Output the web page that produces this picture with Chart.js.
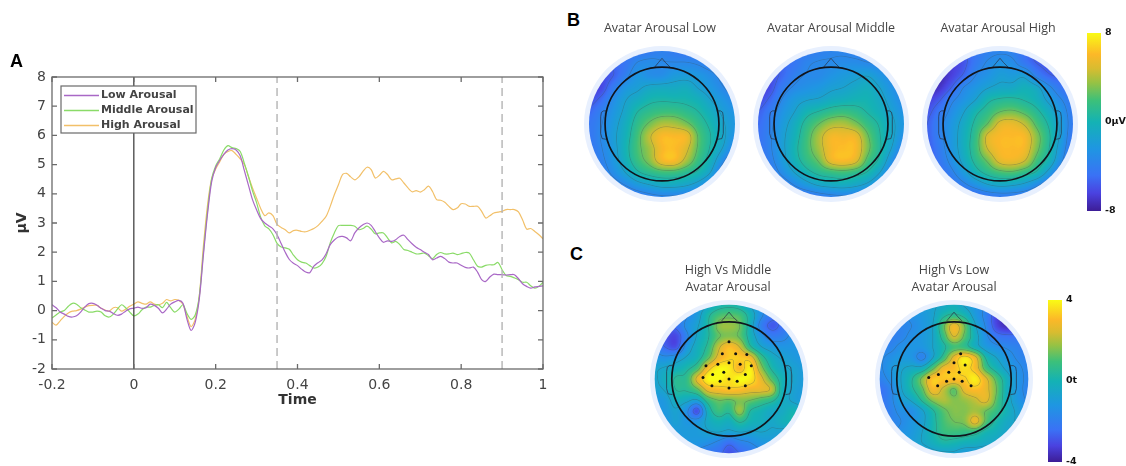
<!DOCTYPE html>
<html>
<head>
<meta charset="utf-8">
<title>Avatar arousal ERP</title>
<script src="https://cdn.jsdelivr.net/npm/chart.js@4"></script>
<style>
    html, body { margin: 0; padding: 0; background: #fff; }
    body { position: relative; width: 1126px; height: 466px; overflow: hidden; }
    canvas { position: absolute; filter: blur(0.5px); }
    .letter { position: absolute; font: bold 18px "Liberation Sans", sans-serif; color: #000; line-height: 18px; }
    .map-title {
        position: absolute; width: 170px; text-align: center; color: #444;
        font: 12.5px/17px "Open Sans", sans-serif; filter: blur(0.3px);
    }
</style>
</head>
<body>
<script>
// sampled every 10 ms
const times = [
    -0.2,-0.19,-0.18,-0.17,-0.16,-0.15,-0.14,-0.13,-0.12,-0.11,-0.1,-0.09,-0.08,-0.07,-0.06,-0.05,-0.04,-0.03,-0.02,-0.01,
    0,0.01,0.02,0.03,0.04,0.05,0.06,0.07,0.08,0.09,0.1,0.11,0.12,0.13,0.14,0.15,0.16,0.17,0.18,0.19,
    0.2,0.21,0.22,0.23,0.24,0.25,0.26,0.27,0.28,0.29,0.3,0.31,0.32,0.33,0.34,0.35,0.36,0.37,0.38,0.39,
    0.4,0.41,0.42,0.43,0.44,0.45,0.46,0.47,0.48,0.49,0.5,0.51,0.52,0.53,0.54,0.55,0.56,0.57,0.58,0.59,
    0.6,0.61,0.62,0.63,0.64,0.65,0.66,0.67,0.68,0.69,0.7,0.71,0.72,0.73,0.74,0.75,0.76,0.77,0.78,0.79,
    0.8,0.81,0.82,0.83,0.84,0.85,0.86,0.87,0.88,0.89,0.9,0.91,0.92,0.93,0.94,0.95,0.96,0.97,0.98,0.99,1
];
const lowArousal = [
    0.2,0.1,-0.05,-0.12,-0.2,-0.22,-0.18,-0.05,0.12,0.24,0.25,0.18,0.08,0,-0.02,-0.1,-0.16,-0.12,-0.02,0.06,
    0.08,0.12,0.08,0.1,0.22,0.18,0.08,-0.08,0.05,0.22,0.3,0.35,0.25,-0.3,-0.68,-0.4,0.4,1.9,3.3,4.4,
    4.9,5.15,5.35,5.5,5.55,5.5,5.3,4.8,4.3,3.8,3.45,3.15,3,2.9,2.8,2.6,2.3,2,1.75,1.62,
    1.54,1.42,1.32,1.3,1.52,1.64,1.74,1.95,2.26,2.42,2.52,2.54,2.49,2.39,2.66,2.83,2.94,3,2.92,2.71,
    2.49,2.34,2.39,2.37,2.43,2.54,2.58,2.43,2.29,2.17,2.09,2,1.92,1.74,1.8,1.86,1.78,1.66,1.63,1.63,
    1.55,1.48,1.46,1.49,1.32,1.06,1,1.15,1.25,1.23,1.23,1.22,1.23,1.23,1.09,0.92,0.83,0.77,0.81,0.83,0.85
];
const middleArousal = [
    -0.25,-0.15,-0.05,0,0.15,0.25,0.22,0.1,0.02,-0.05,-0.05,-0.02,-0.05,-0.18,-0.22,-0.12,0.05,0.2,0.1,-0.05,
    -0.18,-0.12,0.03,0.12,0.12,0.18,0.2,0.1,0.28,0.1,-0.05,0.05,0.2,-0.1,-0.3,-0.15,0.5,2,3.4,4.5,
    4.95,5.2,5.5,5.65,5.58,5.55,5.45,5.05,4.6,4.1,3.7,3.2,2.9,2.8,2.6,2.3,2.18,2.15,2.1,1.9,
    1.74,1.66,1.63,1.54,1.46,1.49,1.61,1.86,2.32,2.66,2.91,2.92,2.92,2.92,2.89,2.77,2.81,2.89,2.79,2.63,
    2.66,2.66,2.49,2.32,2.37,2.26,2.09,2.06,2,1.94,1.95,1.97,1.88,1.78,1.92,1.99,1.94,1.94,1.97,1.92,
    1.95,1.99,1.97,1.74,1.52,1.49,1.55,1.57,1.57,1.65,1.4,1.2,1.17,1.12,1.06,0.97,0.97,0.85,0.77,0.83,0.97
];
const highArousal = [
    -0.4,-0.5,-0.35,-0.2,-0.08,-0.02,0,0.05,0.12,0.17,0.18,0.18,0.08,0.02,-0.02,0.1,0.1,-0.02,0.05,0.15,
    0.22,0.3,0.25,0.22,0.3,0.22,0.2,0.25,0.38,0.33,0.38,0.35,0.22,-0.2,-0.55,-0.3,0.5,2.2,3.6,4.5,
    4.85,5.1,5.35,5.45,5.48,5.35,5.2,5,4.6,4.2,3.85,3.5,3.25,3.35,3.25,2.95,2.85,2.77,2.66,2.74,
    2.75,2.71,2.7,2.75,2.81,2.91,3.06,3.23,3.57,3.97,4.31,4.66,4.7,4.58,4.48,4.58,4.77,4.91,4.83,4.54,
    4.63,4.77,4.66,4.48,4.51,4.53,4.37,4.2,4.07,4.11,4.06,4.14,4.26,4.08,3.8,3.78,3.71,3.57,3.46,3.51,
    3.66,3.65,3.57,3.57,3.57,3.4,3.17,3.25,3.34,3.37,3.4,3.46,3.46,3.46,3.38,3.11,2.79,2.81,2.71,2.6,2.46
];
const markerTimes = [0.35, 0.9];
const xTickValues = [-0.2, 0, 0.2, 0.4, 0.6, 0.8, 1];

// scalp maps, rows from the front of the head to the back, in µV
const mapLow = [
    [-4.5,-4.5,-4.5,-4.5,-4.5,-4.2,-3.8,-4.2,-4.5,-4.5,-4.5,-4.5,-4.5],
    [-5.2,-5.2,-5.1,-4.5,-3.3,-3,-3.3,-3.3,-3.3,-3.6,-4.2,-4.5,-4.5],
    [-6,-6,-5.4,-3.9,-2.4,-2.9,-2.9,-2.1,-2,-2.3,-3,-3.9,-4.5],
    [-6.5,-6.2,-4.2,-2.4,-1.7,-1,-0.8,-0.8,-0.6,-1.5,-2.3,-3.3,-4.2],
    [-6,-5,-3,-1.5,-0.6,0.2,0.4,0.3,0.2,-0.3,-1.4,-2.4,-3.3],
    [-5.1,-3.9,-2.4,-1,0.6,1.4,1.8,1.8,1.3,0.6,-0.5,-1.7,-2.6],
    [-4.5,-3.5,-2,-0.5,1.4,2.9,4,3.9,3,1.5,0.2,-1.2,-2.3],
    [-4.5,-3.3,-1.8,-0.2,2,4.4,6,6,5.6,2.4,0.6,-1,-2.7],
    [-4.5,-3.5,-2,0,2.1,3.8,5.9,6.2,5,2.3,0.4,-1.5,-3.6],
    [-4.5,-3.8,-2.3,-0.3,1.7,3.3,5.7,6,3.9,1.6,-0.3,-3,-5.2],
    [-4.5,-4.2,-3,-1.4,0.3,1.2,1.8,1.8,1.1,0.2,-1.5,-4.5,-6],
    [-4.8,-4.5,-4.2,-3.3,-2.1,-1.4,-0.8,-0.8,-1.2,-2.1,-3.6,-5.1,-6],
    [-5.2,-5.2,-5.2,-5.2,-4.5,-3.9,-3.6,-3.6,-3.9,-4.5,-5.1,-5.4,-5.7]
];
const mapMiddle = [
    [-4.8,-4.8,-4.8,-4.5,-4.2,-3.9,-3.6,-3.6,-3.9,-4.2,-4.2,-4.5,-4.5],
    [-5.4,-5.4,-5.1,-4.5,-3.6,-3.3,-3.2,-3,-3,-3.3,-3.6,-3.9,-4.2],
    [-6.4,-6,-5.1,-3.9,-3.3,-3.2,-2.6,-2.1,-1.8,-1.5,-2.4,-3.3,-3.9],
    [-6.8,-6,-4.2,-3.2,-2.7,-2.3,-1.7,-1.4,-0.9,-0.5,-1.4,-2.7,-3.6],
    [-6.2,-5.1,-3.3,-2.1,-1.5,-1.2,-0.6,-0.3,0,0,-0.8,-2.1,-3.3],
    [-5.4,-4.2,-2.6,-1.4,0,0.7,1.4,1.7,1.3,0.5,-0.3,-1.5,-2.7],
    [-5,-3.8,-2.1,-0.6,1.2,2.6,3.8,4,3.1,1.6,0.4,-1,-2.4],
    [-4.8,-3.6,-1.8,-0.2,1.8,3.9,5.7,5.7,5.5,2.8,0.7,-1,-2.9],
    [-4.8,-3.6,-1.8,0.1,1.9,3.8,5.8,6.2,6,3.1,0.8,-1.5,-3.8],
    [-4.8,-3.9,-2.1,-0.2,1.4,2.8,5.4,6,5.2,2.1,0.2,-2.7,-5.1],
    [-5.1,-4.5,-3,-1.4,0,1,1.6,1.9,1.4,0.4,-1.4,-3.9,-5.4],
    [-5.4,-5.1,-4.5,-3.3,-2.1,-1.2,-0.8,-0.6,-1,-1.8,-3.3,-4.8,-5.7],
    [-5.7,-5.7,-5.4,-5.2,-4.8,-4.2,-3.8,-3.6,-3.8,-4.5,-5.1,-5.4,-5.7]
];
const mapHigh = [
    [-6,-6,-6,-5.6,-4.5,-3.9,-3.6,-3.8,-4.8,-5.6,-6,-6,-6],
    [-6.5,-6.5,-6.5,-5.8,-4.3,-3.2,-2.6,-3,-4.3,-5.4,-5.8,-6,-6],
    [-7.4,-7.4,-6.5,-5.2,-3.4,-2.6,-1.8,-2,-1.8,-3.9,-5.2,-5.6,-5.8],
    [-7.6,-7,-5.4,-3.4,-2.4,-1.5,-1,-0.9,-0.3,-1,-3,-4.5,-5.4],
    [-6.5,-5.6,-3.8,-2.6,-1.4,0.2,0.8,0.9,0.5,-0.2,-1.8,-3.3,-4.5],
    [-5.8,-4.5,-3,-1.5,0.2,1.4,2.6,2.9,2.2,1,-0.5,-2.4,-4.2],
    [-5.4,-3.9,-2.4,-0.8,1,2.7,5.1,5.4,4.4,2.2,0.4,-1.8,-4.2],
    [-5.4,-3.9,-2.3,-0.5,1.6,5,6,6.1,5.9,3.3,0.9,-1.8,-4.5],
    [-5.6,-4.2,-2.4,-0.5,1.7,4.7,6,6.1,5.8,3.1,0.7,-2.3,-4.8],
    [-5.8,-4.5,-2.9,-0.9,1.1,2.9,5.2,5.6,4.7,2,0,-3,-5.4],
    [-6,-5.1,-3.8,-2.1,-0.2,1.1,2,2.2,1.4,0.3,-2,-4.5,-5.8],
    [-6.2,-5.6,-4.8,-3.8,-2.6,-1.5,-1,-1.2,-1.8,-3,-4.5,-5.6,-6],
    [-6.4,-6.2,-5.8,-5.6,-5.1,-4.5,-4.2,-4.2,-4.5,-5.1,-5.6,-6,-6.2]
];
// t values
const mapHighVsMiddle = [
    [-1.8,-1.8,-1.8,-1.8,-1.2,-0.6,0,0.2,0,-0.7,-1.4,-1.8,-1.8,-1.8,-1.8],
    [-2.4,-2.4,-2.2,-1.7,-1,0.2,1,1.2,1,0,-1.4,-2.2,-2.4,-2.4,-2.4],
    [-2.6,-2.6,-2.4,-1.4,-0.7,0.3,1.6,1.8,1.4,-0.1,-1.9,-2.8,-2.4,-1.9,-1.9],
    [-2.6,-2.9,-3.1,-1.8,-0.5,0.3,1.3,1.6,1.3,0,-1.2,-2,-1.9,-1.4,-1.4],
    [-1.9,-2.6,-2.9,-1.2,-0.2,0.6,2.2,3.1,2.4,0.6,-0.5,-1,-1.2,-1.2,-1.2],
    [-1.2,-1.4,-1.1,-0.5,0,1.2,2.7,3.3,3.3,2.9,0.9,-0.2,-0.7,-1,-1.2],
    [-0.7,-0.5,-0.2,0.2,1,3,3.9,3.8,3,3.8,1.8,0.3,-0.4,-0.7,-1],
    [-0.7,-0.2,0.5,0.7,2.6,3.9,4,3.6,4,3.8,2.7,1.2,0,-0.6,-1],
    [-0.8,-0.5,0.4,0.5,1.2,2.7,3,3.2,3.1,2.8,2.7,2.2,0,-0.7,-1],
    [-1.2,-1,-0.2,-0.4,-0.7,0.8,1.4,1.3,1.6,1.4,1,0.6,-0.2,-0.7,-1],
    [-1.2,-1.1,-0.7,-1.4,-2.9,-0.2,0.9,0.6,1.8,0.4,0,-0.4,-0.4,0,-0.4],
    [-1.2,-1.2,-0.8,-1.2,-1.2,-0.4,0,-0.2,0.5,0,-0.2,-0.5,-0.2,0,-0.4],
    [-1.4,-1.2,-1.1,-1,-1,-0.7,-0.6,-0.8,-0.6,-0.7,-0.6,-0.7,-0.8,-1,-1.2],
    [-1.4,-1.4,-1.3,-1.2,-1.2,-1.4,-1.8,-2.4,-1.9,-1.6,-1.2,-1.1,-1.2,-1.2,-1.4],
    [-1.7,-1.7,-1.7,-1.7,-1.8,-2.2,-2.4,-2.9,-2.6,-2.2,-1.8,-1.7,-1.7,-1.7,-1.7]
];
const mapHighVsLow = [
    [-1.2,-1.2,-1.2,-1.2,-1,-0.7,-0.5,-0.2,-0.7,-1.2,-1.7,-2.4,-2.6,-2.6,-2.6],
    [-1.8,-1.8,-1.7,-1.4,-1.1,-0.7,0.2,0.6,0.1,-1,-1.9,-3.1,-3.4,-3.1,-3],
    [-1.9,-1.9,-1.8,-1.6,-1.2,-0.6,1.2,2.8,1.4,-0.5,-1.7,-3.1,-3.6,-3.4,-3],
    [-2.2,-2,-1.8,-1.4,-1.1,-0.6,0.8,2.4,1.2,-0.2,-1.4,-2.2,-2.4,-2.4,-2.4],
    [-1.9,-1.8,-1.4,-1.2,-1.2,-0.6,0.2,1,0.8,-0.1,-1,-1.4,-1.7,-1.9,-2.2],
    [-1.7,-1.4,-1.1,-1.2,-1.8,-0.6,0.8,2.7,3.7,2.7,0.3,-0.6,-1.2,-1.7,-1.9],
    [-1.7,-1.2,-0.7,-0.4,-0.2,1.2,2.8,3.1,3.6,3,1,0,-0.8,-1.4,-1.8],
    [-1.9,-1.4,-0.6,0.3,1.6,3.2,3.2,3.2,3.3,3.8,2.6,1.1,-0.2,-1.2,-1.8],
    [-2.4,-1.8,-0.7,0.2,1.2,2.9,2.2,1.3,2.7,3.1,2.7,1.4,-0.2,-1.2,-1.9],
    [-2.4,-1.8,-1,-0.5,0.5,1.6,2,1.6,1.8,2.2,2.6,1.2,-0.2,-1.1,-1.7],
    [-2.4,-1.9,-1.4,-1.4,-0.7,0.3,1.2,1.6,1.6,1.9,1.4,0.8,-0.1,-0.8,-1.4],
    [-2.2,-1.9,-1.6,-1.2,-0.8,0.1,1,1.4,1.6,2.7,1.2,0.2,-0.4,-0.7,-1.2],
    [-1.9,-1.8,-1.4,-1.1,-0.6,0.1,0.8,0.9,0.8,0.7,0.1,-0.2,-0.6,-0.8,-1.2],
    [-1.8,-1.6,-1.2,-1,-0.6,-0.2,0.2,0.1,-0.1,-0.2,-0.4,-0.6,-0.8,-1.1,-1.4],
    [-1.9,-1.8,-1.6,-1.3,-1.1,-0.8,-0.7,-0.7,-1,-1,-1.1,-1.2,-1.3,-1.4,-1.7]
];
const sensorsHighVsMiddle = [
    [0,0.5],[-0.09,0.34],[0.09,0.34],[0.24,0.33],[-0.31,0.18],[-0.15,0.2],[0,0.22],[0.15,0.2],[0.3,0.18],[-0.22,0.06],
    [-0.07,0.09],[0.22,0.06],[-0.35,0.02],[0,0],[0.11,-0.03],[-0.12,-0.03],[-0.23,-0.09],[0,-0.12],[0.22,-0.09]
];
const sensorsHighVsLow = [
    [0.09,0.34],[0,0.22],[0.15,0.19],[-0.21,0.06],[-0.07,0.09],[0.07,0.09],[-0.34,0.02],[-0.1,-0.03],[0,0],[0.11,-0.03],[-0.22,-0.09],[0.23,-0.09]
];
const noseOutline = [[-0.1,0.78],[-0.05,0.84],[0,0.9],[0.05,0.84],[0.11,0.78]];
const earOutline = [[0.76,0.18],[0.8,0.18],[0.83,0.16],[0.84,0.1],[0.84,-0.13],[0.82,-0.2],[0.76,-0.21]];

const colorStops = [
    [0, "#3d1d96"], [0.1, "#4a42e0"], [0.2, "#3a72f5"], [0.35, "#1f96e2"], [0.5, "#14b2b4"],
    [0.62, "#3cc07a"], [0.72, "#96c244"], [0.8, "#d8bc30"], [0.88, "#fcb828"], [1, "#f9fb15"]
];

function hexToRgb(hex) {
    return [1, 3, 5].map(i => parseInt(hex.slice(i, i + 2), 16));
}

const colorLut = (() => {
    const lut = [];
    for (let i = 0; i <= 255; i++) {
        const t = i / 255;
        let k = 0;
        while (k < colorStops.length - 2 && t > colorStops[k + 1][0]) k++;
        const [t0, c0] = colorStops[k];
        const [t1, c1] = colorStops[k + 1];
        const f = (t - t0) / (t1 - t0);
        const a = hexToRgb(c0), b = hexToRgb(c1);
        lut.push(a.map((v, j) => v + (b[j] - v) * f));
    }
    return lut;
})();

function cubic(p0, p1, p2, p3, t) {
    return p1 + 0.5 * t * (p2 - p0 + t * (2 * p0 - 5 * p1 + 4 * p2 - p3 + t * (3 * (p1 - p2) + p3 - p0)));
}

function sampleGrid(grid, x, y) {
    const n = grid.length - 1;
    const gx = (x + 1) / 2 * n, gy = (1 - y) / 2 * n;
    const ix = Math.floor(gx), iy = Math.floor(gy);
    const at = (r, c) => grid[Math.max(0, Math.min(n, r))][Math.max(0, Math.min(n, c))];
    const row = r => cubic(at(r, ix - 1), at(r, ix), at(r, ix + 1), at(r, ix + 2), gx - ix);
    return cubic(row(iy - 1), row(iy), row(iy + 1), row(iy + 2), gy - iy);
}

const topoPlugin = {
    id: "topo",
    beforeDatasetsDraw(chart, args, opts) {
        const { ctx, scales: { x: sx, y: sy }, width, height } = chart;
        const unit = sx.getPixelForValue(1) - sx.getPixelForValue(0);
        const cx = sx.getPixelForValue(0), cy = sy.getPixelForValue(0);

        ctx.save();
        ctx.fillStyle = "#e8f0fe";
        ctx.beginPath();
        ctx.arc(cx, cy, unit * opts.halo, 0, Math.PI * 2);
        ctx.fill();

        const values = new Float32Array(width * height);
        for (let j = 0; j < height; j++) {
            const vy = sy.getValueForPixel(j + 0.5);
            for (let i = 0; i < width; i++) {
                values[j * width + i] = sampleGrid(opts.grid, sx.getValueForPixel(i + 0.5), vy);
            }
        }

        const off = document.createElement("canvas");
        off.width = width;
        off.height = height;
        const offCtx = off.getContext("2d");
        const img = offCtx.createImageData(width, height);
        for (let j = 1; j < height - 1; j++) {
            for (let i = 1; i < width - 1; i++) {
                const k = j * width + i;
                const v = values[k];
                const t = Math.max(0, Math.min(1, (v - opts.min) / (opts.max - opts.min)));
                const c = colorLut[Math.round(t * 255)];
                const gx = (values[k + 1] - values[k - 1]) / 2;
                const gy = (values[k + width] - values[k - width]) / 2;
                const g = Math.max(Math.hypot(gx, gy), 0.002);
                const near = Math.round((v - opts.offset) / opts.step) * opts.step + opts.offset;
                const a = Math.max(0, 1 - Math.abs(v - near) / (g * 0.8)) * 0.28;
                const p = (j * width + i) * 4;
                img.data[p] = c[0] * (1 - a) + 60 * a;
                img.data[p + 1] = c[1] * (1 - a) + 80 * a;
                img.data[p + 2] = c[2] * (1 - a) + 80 * a;
                img.data[p + 3] = 255;
            }
        }
        offCtx.putImageData(img, 0, 0);

        ctx.beginPath();
        ctx.arc(cx, cy, unit, 0, Math.PI * 2);
        ctx.clip();
        ctx.drawImage(off, 0, 0);
        ctx.restore();

        // nose and ears go under the head circle
        ctx.save();
        ctx.strokeStyle = "rgba(40,50,70,0.8)";
        ctx.lineWidth = 0.9;
        const tracePath = (pts, flip) => {
            ctx.beginPath();
            pts.forEach(([px, py], i) => {
                const xp = sx.getPixelForValue(flip ? -px : px), yp = sy.getPixelForValue(py);
                if (i) ctx.lineTo(xp, yp); else ctx.moveTo(xp, yp);
            });
            ctx.stroke();
        };
        tracePath(noseOutline, false);
        tracePath(earOutline, false);
        tracePath(earOutline, true);
        ctx.strokeStyle = "#10141c";
        ctx.lineWidth = 1.7;
        ctx.beginPath();
        ctx.arc(cx, cy, unit * opts.head, 0, Math.PI * 2);
        ctx.stroke();
        ctx.restore();
    },
};

const axisBoxPlugin = {
    id: "axisBox",
    afterDatasetsDraw(chart) {
        const { ctx, chartArea: a, scales: { x, y } } = chart;
        ctx.save();
        ctx.strokeStyle = "#6a6a6a";
        ctx.lineWidth = 1.3;
        ctx.strokeRect(a.left, a.top, a.right - a.left, a.bottom - a.top);
        ctx.beginPath();
        x.ticks.forEach(t => {
            const px = x.getPixelForValue(t.value);
            ctx.moveTo(px, a.top); ctx.lineTo(px, a.top + 5);
            ctx.moveTo(px, a.bottom); ctx.lineTo(px, a.bottom - 5);
        });
        y.ticks.forEach(t => {
            const py = y.getPixelForValue(t.value);
            ctx.moveTo(a.left, py); ctx.lineTo(a.left + 5, py);
            ctx.moveTo(a.right, py); ctx.lineTo(a.right - 5, py);
        });
        ctx.stroke();

        // matlab style legend in a box
        const items = chart.data.datasets.filter(d => d.inLegend);
        const left = x.getPixelForValue(-0.2) + 9, top = a.top + 9;
        ctx.fillStyle = "#fff";
        ctx.fillRect(left, top, 135, 47);
        ctx.strokeStyle = "#6a6a6a";
        ctx.lineWidth = 1.2;
        ctx.strokeRect(left, top, 135, 47);
        ctx.font = "bold 11px 'DejaVu Sans'";
        ctx.textBaseline = "middle";
        items.forEach((d, i) => {
            const ly = top + 9.5 + i * 15;
            ctx.strokeStyle = d.borderColor;
            ctx.lineWidth = 1.5;
            ctx.beginPath();
            ctx.moveTo(left + 3, ly);
            ctx.lineTo(left + 38, ly);
            ctx.stroke();
            ctx.fillStyle = "#444";
            ctx.fillText(d.label, left + 40, ly);
        });
        ctx.restore();
    },
};

function addCanvas(left, top, width, height) {
    const c = document.createElement("canvas");
    c.style.left = left + "px";
    c.style.top = top + "px";
    c.style.width = width + "px";
    c.style.height = height + "px";
    c.width = width;
    c.height = height;
    document.body.appendChild(c);
    return c;
}

function addText(cls, left, top, lines) {
    const d = document.createElement("div");
    d.className = cls;
    d.style.left = left + "px";
    d.style.top = top + "px";
    d.innerHTML = lines.join("<br>");
    document.body.appendChild(d);
}

function drawErp() {
    const series = [
        { label: "Low Arousal", values: lowArousal, color: "#a968c6" },
        { label: "Middle Arousal", values: middleArousal, color: "#8adb68" },
        { label: "High Arousal", values: highArousal, color: "#f2c069" },
    ];
    const lineSets = series.map(s => ({
        label: s.label,
        inLegend: true,
        data: times.map((t, i) => ({ x: t, y: s.values[i] })),
        borderColor: s.color,
        borderWidth: 1.2,
        pointRadius: 0,
        tension: 0.3,
    }));
    const zeroLine = {
        data: [{ x: 0, y: -2 }, { x: 0, y: 8 }],
        borderColor: "#333",
        borderWidth: 1.2,
        pointRadius: 0,
    };
    const markers = markerTimes.map(t => ({
        data: [{ x: t, y: -2 }, { x: t, y: 8 }],
        borderColor: "#b4b4b4",
        borderWidth: 1.4,
        borderDash: [8, 5],
        pointRadius: 0,
    }));

    new Chart(addCanvas(0, 60, 560, 350), {
        type: "line",
        data: { datasets: [zeroLine, ...markers, ...lineSets] },
        options: {
            responsive: false,
            animation: false,
            layout: { padding: { top: 17, right: 17 } },
            plugins: { legend: { display: false }, tooltip: { enabled: false } },
            scales: {
                x: {
                    type: "linear",
                    min: -0.2,
                    max: 1,
                    afterFit(s) { s.height = 41; },
                    afterBuildTicks(s) { s.ticks = xTickValues.map(value => ({ value })); },
                    grid: { display: false },
                    border: { display: false },
                    ticks: {
                        color: "#444",
                        font: { family: "DejaVu Sans", size: 14 },
                        maxRotation: 0,
                        padding: 0,
                        callback: v => String(v),
                    },
                    title: {
                        display: true,
                        text: "Time",
                        color: "#333",
                        font: { family: "DejaVu Sans", size: 14, weight: "bold" },
                        padding: { top: 0, bottom: 1 },
                    },
                },
                y: {
                    min: -2,
                    max: 8,
                    afterFit(s) { s.width = 52; },
                    grid: { display: false },
                    border: { display: false },
                    ticks: {
                        stepSize: 1,
                        color: "#444",
                        font: { family: "DejaVu Sans", size: 14 },
                        padding: -2,
                    },
                    title: {
                        display: true,
                        text: "µV",
                        color: "#333",
                        font: { family: "DejaVu Sans", size: 14, weight: "bold" },
                        padding: { top: 14, bottom: 0 },
                    },
                },
            },
        },
        plugins: [axisBoxPlugin],
    });
}

function drawMap(centerX, centerY, radius, haloPx, grid, range, levels, head, sensors) {
    const size = Math.ceil((radius + haloPx) * 2 + 2);
    const extent = size / 2 / radius;
    new Chart(addCanvas(centerX - size / 2, centerY - size / 2, size, size), {
        type: "scatter",
        data: {
            datasets: [{
                data: sensors.map(([x, y]) => ({ x, y })),
                pointRadius: 1.5,
                pointBackgroundColor: "#111",
                pointBorderWidth: 0,
            }],
        },
        options: {
            responsive: false,
            animation: false,
            layout: { padding: 0 },
            plugins: {
                legend: { display: false },
                tooltip: { enabled: false },
                topo: {
                    grid, min: -range, max: range, step: levels.step, offset: levels.offset,
                    head, halo: 1 + haloPx / radius,
                },
            },
            scales: {
                x: { type: "linear", display: false, min: -extent, max: extent },
                y: { type: "linear", display: false, min: -extent, max: extent },
            },
        },
        plugins: [topoPlugin],
    });
}

function drawColorbar(left, top, barWidth, barHeight, range, tickLabels) {
    const pad = 10, labelWidth = 30;
    new Chart(addCanvas(left, top - pad, barWidth + labelWidth, barHeight + pad * 2), {
        type: "bar",
        data: {
            labels: [""],
            datasets: [{
                data: [[-range, range]],
                barPercentage: 1,
                categoryPercentage: 1,
                backgroundColor(c) {
                    const area = c.chart.chartArea;
                    if (!area) return "#14b2b4";
                    const g = c.chart.ctx.createLinearGradient(0, area.bottom, 0, area.top);
                    colorStops.forEach(([t, col]) => g.addColorStop(t, col));
                    return g;
                },
            }],
        },
        options: {
            responsive: false,
            animation: false,
            layout: { padding: { top: pad, bottom: pad } },
            plugins: { legend: { display: false }, tooltip: { enabled: false } },
            scales: {
                x: { display: false },
                y: {
                    position: "right",
                    min: -range,
                    max: range,
                    afterFit(s) { s.width = labelWidth; },
                    afterBuildTicks(s) { s.ticks = [-range, 0, range].map(value => ({ value })); },
                    grid: { display: false },
                    border: { display: false },
                    ticks: {
                        color: "#111",
                        padding: -4,
                        font: { family: "DejaVu Sans", size: 9.5, weight: "bold" },
                        callback: (v, i) => tickLabels[i],
                    },
                },
            },
        },
    });
}

const bRange = 8, cRange = 4;
const bLevels = { step: 2, offset: 0.6 }, cLevels = { step: 1, offset: 0.4 };
const bHead = 0.78, cHead = 0.77;

drawErp();
drawMap(661.7, 124, 73, 5, mapLow, bRange, bLevels, bHead, []);
drawMap(830.7, 124, 73, 5, mapMiddle, bRange, bLevels, bHead, []);
drawMap(1000, 124, 73, 5, mapHigh, bRange, bLevels, bHead, []);
drawMap(729, 379, 78, 5, mapHighVsMiddle, cRange, cLevels, cHead, sensorsHighVsMiddle);
drawMap(954, 379, 78, 5, mapHighVsLow, cRange, cLevels, cHead, sensorsHighVsLow);
drawColorbar(1087, 33, 14, 178, bRange, ["-8", "0µV", "8"]);
drawColorbar(1048, 300, 14, 162, cRange, ["-4", "0t", "4"]);

addText("letter", 10, 52, ["A"]);
addText("letter", 567, 11, ["B"]);
addText("letter", 570, 245, ["C"]);
addText("map-title", 575, 19, ["Avatar Arousal Low"]);
addText("map-title", 746, 19, ["Avatar Arousal Middle"]);
addText("map-title", 913, 19, ["Avatar Arousal High"]);
addText("map-title", 643, 261, ["High Vs Middle", "Avatar Arousal"]);
addText("map-title", 869, 261, ["High Vs Low", "Avatar Arousal"]);
</script>
</body>
</html>
